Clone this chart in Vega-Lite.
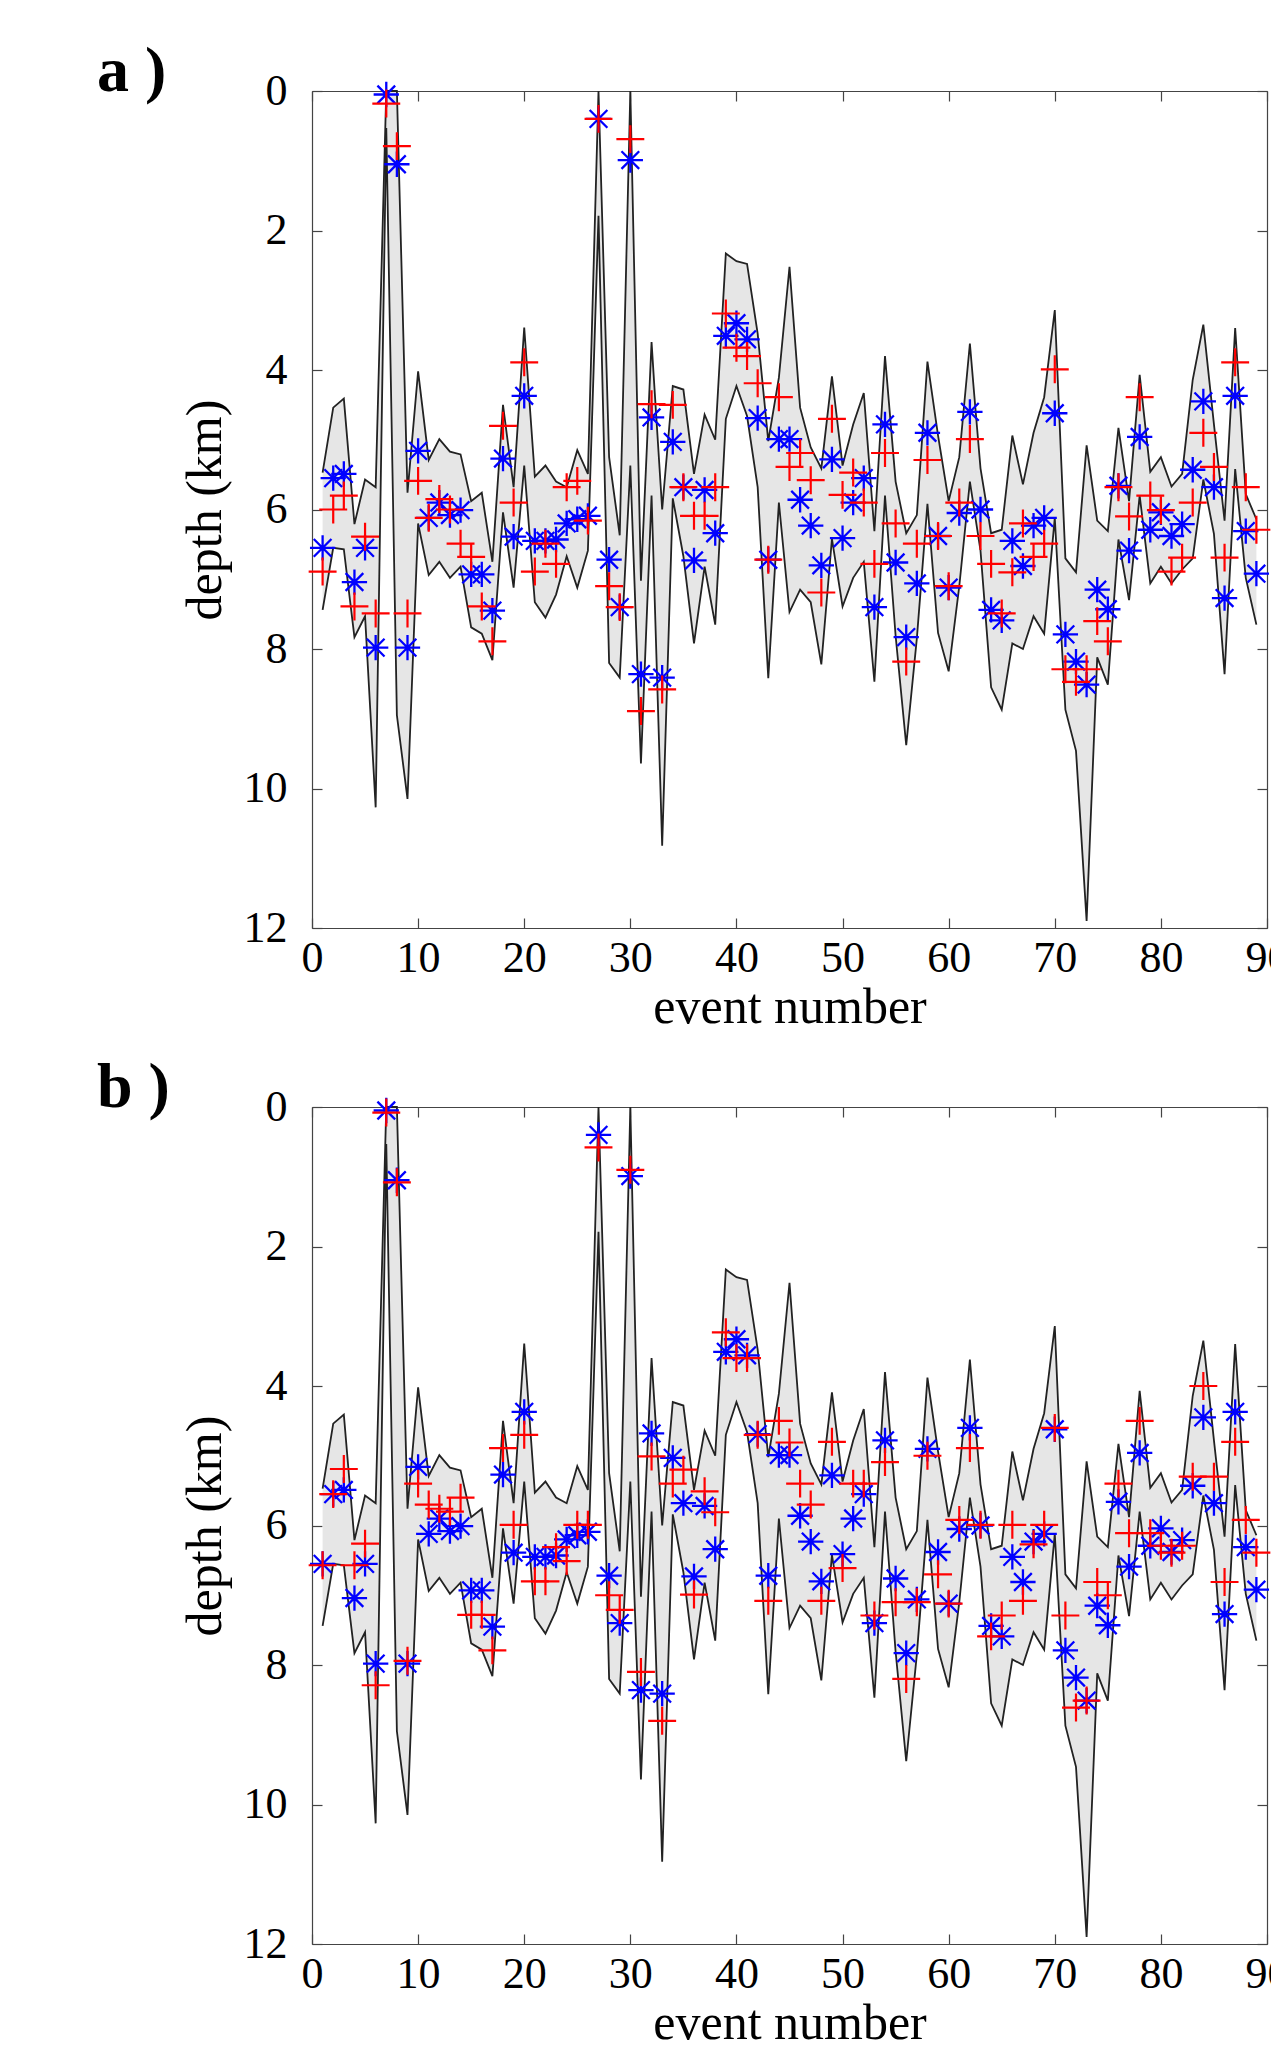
{
  "$schema": "https://vega.github.io/schema/vega-lite/v6.json",
  "padding": {"left": 97, "top": 40, "right": 0, "bottom": 0},
  "spacing": 24,
  "config": {
    "font": "Liberation Serif",
    "view": {"stroke": null},
    "axis": {
      "grid": false,
      "labelFont": "Liberation Serif",
      "labelFontSize": 44,
      "labelColor": "#000000",
      "titleFont": "Liberation Serif",
      "titleFontSize": 50,
      "titleFontWeight": "normal",
      "titleColor": "#000000",
      "tickColor": "#444444",
      "tickSize": -10,
      "tickWidth": 1.2,
      "domainColor": "#444444",
      "domainWidth": 1.2,
      "labelFlush": false,
      "labelOverlap": false,
      "zindex": 1
    }
  },
  "datasets": {
    "ev": [
      {"e":1,"up":5.47,"lo":7.44,"b":6.55,"ra":6.89,"rb":6.57},
      {"e":2,"up":4.54,"lo":6.55,"b":5.55,"ra":6.0,"rb":5.55},
      {"e":3,"up":4.41,"lo":6.57,"b":5.49,"ra":5.8,"rb":5.19},
      {"e":4,"up":6.21,"lo":7.83,"b":7.04,"ra":7.39,"rb":6.57},
      {"e":5,"up":5.57,"lo":7.53,"b":6.55,"ra":6.39,"rb":6.26},
      {"e":6,"up":5.68,"lo":10.27,"b":7.98,"ra":7.49,"rb":8.29},
      {"e":7,"up":0.0,"lo":0.53,"b":0.05,"ra":0.18,"rb":0.08},
      {"e":8,"up":0.0,"lo":8.95,"b":1.05,"ra":0.79,"rb":1.08},
      {"e":9,"up":5.76,"lo":10.15,"b":7.98,"ra":7.49,"rb":7.94},
      {"e":10,"up":4.02,"lo":6.2,"b":5.16,"ra":5.59,"rb":5.4},
      {"e":11,"up":5.29,"lo":6.94,"b":6.12,"ra":6.12,"rb":5.7},
      {"e":12,"up":4.99,"lo":6.75,"b":5.9,"ra":5.85,"rb":5.76},
      {"e":13,"up":5.17,"lo":6.98,"b":6.08,"ra":6.0,"rb":5.8},
      {"e":14,"up":5.21,"lo":6.82,"b":6.01,"ra":6.49,"rb":5.6},
      {"e":15,"up":5.88,"lo":7.69,"b":6.93,"ra":6.68,"rb":7.28},
      {"e":16,"up":5.76,"lo":7.78,"b":6.93,"ra":7.39,"rb":7.28},
      {"e":17,"up":6.75,"lo":8.16,"b":7.45,"ra":7.89,"rb":7.79},
      {"e":18,"up":4.5,"lo":6.04,"b":5.27,"ra":4.8,"rb":4.89},
      {"e":19,"up":5.68,"lo":7.12,"b":6.39,"ra":5.9,"rb":5.99},
      {"e":20,"up":3.39,"lo":5.37,"b":4.37,"ra":3.89,"rb":4.7},
      {"e":21,"up":5.53,"lo":7.33,"b":6.45,"ra":6.89,"rb":6.8},
      {"e":22,"up":5.37,"lo":7.55,"b":6.45,"ra":6.49,"rb":6.8},
      {"e":23,"up":5.6,"lo":7.22,"b":6.43,"ra":6.78,"rb":6.31},
      {"e":24,"up":5.68,"lo":6.67,"b":6.2,"ra":5.68,"rb":6.51},
      {"e":25,"up":5.15,"lo":7.12,"b":6.14,"ra":5.59,"rb":5.99},
      {"e":26,"up":5.49,"lo":6.59,"b":6.09,"ra":6.16,"rb":5.99},
      {"e":27,"up":0.0,"lo":1.79,"b":0.4,"ra":0.4,"rb":0.58},
      {"e":28,"up":5.25,"lo":8.2,"b":6.72,"ra":7.1,"rb":7.0},
      {"e":29,"up":6.37,"lo":8.41,"b":7.4,"ra":7.4,"rb":7.21},
      {"e":30,"up":0.0,"lo":5.37,"b":0.99,"ra":0.69,"rb":0.9},
      {"e":31,"up":7.02,"lo":9.64,"b":8.36,"ra":8.89,"rb":8.1},
      {"e":32,"up":3.6,"lo":5.8,"b":4.68,"ra":4.49,"rb":5.01},
      {"e":33,"up":6.0,"lo":10.82,"b":8.41,"ra":8.58,"rb":8.8},
      {"e":34,"up":4.23,"lo":5.84,"b":5.03,"ra":4.5,"rb":5.4},
      {"e":35,"up":4.28,"lo":6.67,"b":5.68,"ra":5.68,"rb":5.2},
      {"e":36,"up":5.49,"lo":7.92,"b":6.73,"ra":6.09,"rb":6.99},
      {"e":37,"up":4.64,"lo":6.82,"b":5.72,"ra":6.09,"rb":5.51},
      {"e":38,"up":5.0,"lo":7.65,"b":6.34,"ra":5.68,"rb":5.81},
      {"e":39,"up":2.33,"lo":4.7,"b":3.51,"ra":3.19,"rb":3.23},
      {"e":40,"up":2.44,"lo":4.23,"b":3.33,"ra":3.68,"rb":3.6},
      {"e":41,"up":2.48,"lo":4.66,"b":3.56,"ra":3.8,"rb":3.6},
      {"e":42,"up":3.48,"lo":5.68,"b":4.69,"ra":4.19,"rb":4.7},
      {"e":43,"up":5.02,"lo":8.42,"b":6.72,"ra":6.72,"rb":7.08},
      {"e":44,"up":4.11,"lo":5.9,"b":4.99,"ra":4.39,"rb":4.5},
      {"e":45,"up":2.52,"lo":7.47,"b":4.99,"ra":5.39,"rb":4.81},
      {"e":46,"up":4.54,"lo":7.15,"b":5.86,"ra":5.19,"rb":5.4},
      {"e":47,"up":5.11,"lo":7.33,"b":6.23,"ra":5.58,"rb":5.7},
      {"e":48,"up":5.41,"lo":8.22,"b":6.8,"ra":7.19,"rb":7.08},
      {"e":49,"up":4.09,"lo":6.42,"b":5.28,"ra":4.7,"rb":4.8},
      {"e":50,"up":5.37,"lo":7.39,"b":6.41,"ra":5.79,"rb":6.61},
      {"e":51,"up":4.78,"lo":6.98,"b":5.9,"ra":5.47,"rb":5.4},
      {"e":52,"up":4.33,"lo":6.75,"b":5.55,"ra":5.9,"rb":5.4},
      {"e":53,"up":6.31,"lo":8.47,"b":7.4,"ra":6.78,"rb":7.29},
      {"e":54,"up":3.8,"lo":5.8,"b":4.78,"ra":5.19,"rb":5.09},
      {"e":55,"up":5.6,"lo":7.81,"b":6.76,"ra":6.2,"rb":7.1},
      {"e":56,"up":6.34,"lo":9.38,"b":7.83,"ra":8.18,"rb":8.2},
      {"e":57,"up":6.08,"lo":7.85,"b":7.06,"ra":6.49,"rb":7.1},
      {"e":58,"up":3.88,"lo":5.92,"b":4.9,"ra":5.29,"rb":5.0},
      {"e":59,"up":4.94,"lo":7.77,"b":6.38,"ra":6.38,"rb":6.7},
      {"e":60,"up":5.88,"lo":8.32,"b":7.12,"ra":7.1,"rb":7.12},
      {"e":61,"up":5.25,"lo":7.1,"b":6.05,"ra":5.9,"rb":5.92},
      {"e":62,"up":3.62,"lo":5.6,"b":4.6,"ra":4.99,"rb":4.89},
      {"e":63,"up":5.41,"lo":6.59,"b":6.0,"ra":6.38,"rb":5.99},
      {"e":64,"up":6.34,"lo":8.55,"b":7.44,"ra":6.78,"rb":7.59},
      {"e":65,"up":6.29,"lo":8.87,"b":7.59,"ra":7.49,"rb":7.29},
      {"e":66,"up":4.94,"lo":7.92,"b":6.45,"ra":6.9,"rb":5.99},
      {"e":67,"up":5.64,"lo":8.0,"b":6.81,"ra":6.2,"rb":7.08},
      {"e":68,"up":4.9,"lo":7.53,"b":6.23,"ra":6.68,"rb":6.27},
      {"e":69,"up":4.39,"lo":7.78,"b":6.12,"ra":6.49,"rb":5.99},
      {"e":70,"up":3.14,"lo":6.12,"b":4.62,"ra":3.99,"rb":4.6},
      {"e":71,"up":6.7,"lo":8.87,"b":7.79,"ra":8.29,"rb":7.29},
      {"e":72,"up":6.9,"lo":9.46,"b":8.18,"ra":8.47,"rb":8.61},
      {"e":73,"up":5.08,"lo":11.9,"b":8.51,"ra":8.29,"rb":8.51},
      {"e":74,"up":6.16,"lo":8.12,"b":7.15,"ra":7.6,"rb":6.81},
      {"e":75,"up":6.31,"lo":8.51,"b":7.43,"ra":7.89,"rb":7.0},
      {"e":76,"up":4.83,"lo":6.43,"b":5.66,"ra":5.68,"rb":5.4},
      {"e":77,"up":5.88,"lo":7.3,"b":6.59,"ra":6.1,"rb":6.11},
      {"e":78,"up":4.07,"lo":5.8,"b":4.96,"ra":4.39,"rb":4.5},
      {"e":79,"up":5.46,"lo":7.06,"b":6.29,"ra":5.8,"rb":6.11},
      {"e":80,"up":5.25,"lo":6.82,"b":6.04,"ra":6.01,"rb":6.29},
      {"e":81,"up":5.67,"lo":7.06,"b":6.38,"ra":6.89,"rb":6.39},
      {"e":82,"up":5.49,"lo":6.86,"b":6.21,"ra":6.69,"rb":6.29},
      {"e":83,"up":4.14,"lo":6.7,"b":5.43,"ra":5.9,"rb":5.3},
      {"e":84,"up":3.35,"lo":5.57,"b":4.45,"ra":4.9,"rb":4.0},
      {"e":85,"up":4.78,"lo":6.35,"b":5.68,"ra":5.39,"rb":5.3},
      {"e":86,"up":6.16,"lo":8.36,"b":7.27,"ra":6.69,"rb":6.81},
      {"e":87,"up":3.4,"lo":5.42,"b":4.37,"ra":3.89,"rb":4.8},
      {"e":88,"up":5.78,"lo":6.98,"b":6.31,"ra":5.68,"rb":5.92},
      {"e":89,"up":6.14,"lo":7.65,"b":6.92,"ra":6.29,"rb":6.39}
    ]
  },
  "vconcat": [
    {
      "title": {"text": "a )", "anchor": "start", "frame": "group", "orient": "top", "offset": -4, "baseline": "alphabetic", "dx": -215, "dy": 82, "fontSize": 64, "fontWeight": "bold", "font": "Liberation Serif", "color": "#000000"},
      "width": 955,
      "height": 837,
      "data": {"name": "ev"},
      "resolve": {"axis": {"x": "independent", "y": "independent"}},
      "layer": [
        {
          "mark": {"type": "area", "color": "#e6e6e6", "opacity": 1},
          "encoding": {
            "x": {"field": "e", "type": "quantitative", "scale": {"domain": [0, 90], "nice": false},
                  "axis": {"orient": "bottom", "title": "event number", "values": [0,10,20,30,40,50,60,70,80,90], "labelPadding": 18, "titlePadding": 2}},
            "y": {"field": "up", "type": "quantitative", "scale": {"domain": [0, 12], "reverse": true, "nice": false},
                  "axis": {"orient": "left", "title": "depth (km)", "values": [0,2,4,6,8,10,12], "labelPadding": 35, "titlePadding": 13}},
            "y2": {"field": "lo"}
          }
        },
        {
          "mark": {"type": "line", "color": "#222222", "strokeWidth": 1.8},
          "encoding": {
            "x": {"field": "e", "type": "quantitative", "axis": {"orient": "top", "title": null, "labels": false, "values": [0,10,20,30,40,50,60,70,80,90]}},
            "y": {"field": "up", "type": "quantitative", "axis": {"orient": "right", "title": null, "labels": false, "values": [0,2,4,6,8,10,12]}}
          }
        },
        {
          "mark": {"type": "line", "color": "#222222", "strokeWidth": 1.8},
          "encoding": {
            "x": {"field": "e", "type": "quantitative", "axis": null},
            "y": {"field": "lo", "type": "quantitative", "axis": null}
          }
        },
        {
          "mark": {"type": "point", "shape": "M-1,0L1,0M0,-1L0,1M-0.7,-0.7L0.7,0.7M-0.7,0.7L0.7,-0.7", "size": 640, "filled": false, "color": "#0000ff", "strokeWidth": 2.3, "opacity": 1},
          "encoding": {
            "x": {"field": "e", "type": "quantitative", "axis": null},
            "y": {"field": "b", "type": "quantitative", "axis": null}
          }
        },
        {
          "mark": {"type": "point", "shape": "M-1,0L1,0M0,-1L0,1", "size": 780, "filled": false, "color": "#ff0000", "strokeWidth": 2.2, "opacity": 1},
          "encoding": {
            "x": {"field": "e", "type": "quantitative", "axis": null},
            "y": {"field": "ra", "type": "quantitative", "axis": null}
          }
        }
      ]
    },
    {
      "title": {"text": "b )", "anchor": "start", "frame": "group", "orient": "top", "offset": -4, "baseline": "alphabetic", "dx": -215, "dy": 82, "fontSize": 64, "fontWeight": "bold", "font": "Liberation Serif", "color": "#000000"},
      "width": 955,
      "height": 837,
      "data": {"name": "ev"},
      "resolve": {"axis": {"x": "independent", "y": "independent"}},
      "layer": [
        {
          "mark": {"type": "area", "color": "#e6e6e6", "opacity": 1},
          "encoding": {
            "x": {"field": "e", "type": "quantitative", "scale": {"domain": [0, 90], "nice": false},
                  "axis": {"orient": "bottom", "title": "event number", "values": [0,10,20,30,40,50,60,70,80,90], "labelPadding": 18, "titlePadding": 2}},
            "y": {"field": "up", "type": "quantitative", "scale": {"domain": [0, 12], "reverse": true, "nice": false},
                  "axis": {"orient": "left", "title": "depth (km)", "values": [0,2,4,6,8,10,12], "labelPadding": 35, "titlePadding": 13}},
            "y2": {"field": "lo"}
          }
        },
        {
          "mark": {"type": "line", "color": "#222222", "strokeWidth": 1.8},
          "encoding": {
            "x": {"field": "e", "type": "quantitative", "axis": {"orient": "top", "title": null, "labels": false, "values": [0,10,20,30,40,50,60,70,80,90]}},
            "y": {"field": "up", "type": "quantitative", "axis": {"orient": "right", "title": null, "labels": false, "values": [0,2,4,6,8,10,12]}}
          }
        },
        {
          "mark": {"type": "line", "color": "#222222", "strokeWidth": 1.8},
          "encoding": {
            "x": {"field": "e", "type": "quantitative", "axis": null},
            "y": {"field": "lo", "type": "quantitative", "axis": null}
          }
        },
        {
          "mark": {"type": "point", "shape": "M-1,0L1,0M0,-1L0,1M-0.7,-0.7L0.7,0.7M-0.7,0.7L0.7,-0.7", "size": 640, "filled": false, "color": "#0000ff", "strokeWidth": 2.3, "opacity": 1},
          "encoding": {
            "x": {"field": "e", "type": "quantitative", "axis": null},
            "y": {"field": "b", "type": "quantitative", "axis": null}
          }
        },
        {
          "mark": {"type": "point", "shape": "M-1,0L1,0M0,-1L0,1", "size": 780, "filled": false, "color": "#ff0000", "strokeWidth": 2.2, "opacity": 1},
          "encoding": {
            "x": {"field": "e", "type": "quantitative", "axis": null},
            "y": {"field": "rb", "type": "quantitative", "axis": null}
          }
        }
      ]
    }
  ]
}
